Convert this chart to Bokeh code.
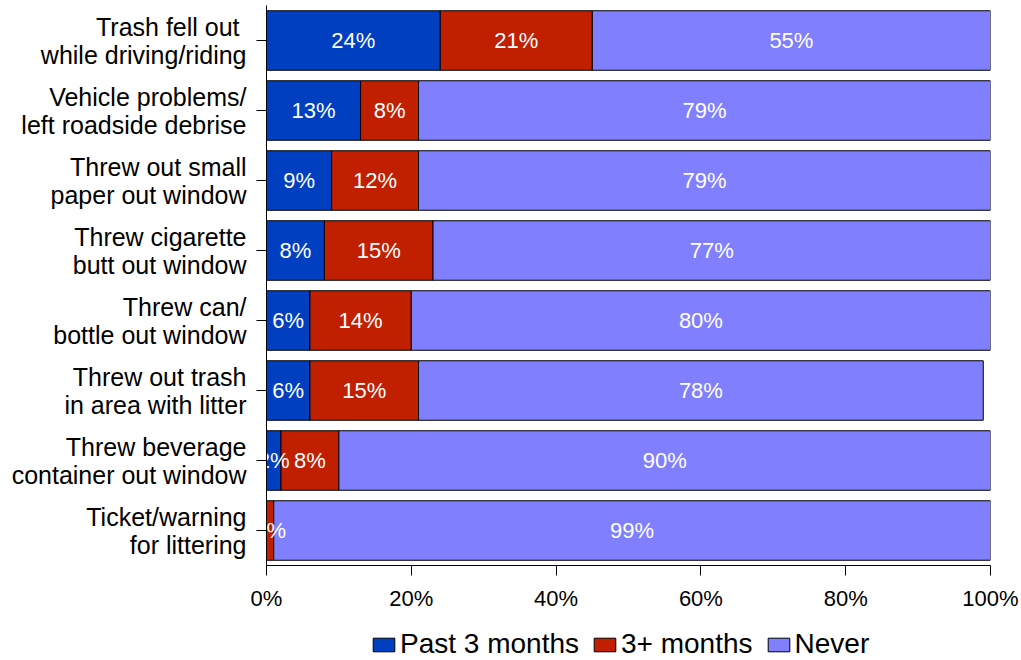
from bokeh.plotting import figure
from bokeh.layouts import column
from bokeh.models import Range1d, FactorRange, FixedTicker, PrintfTickFormatter, Legend, LegendItem, ColumnDataSource
from bokeh.core.properties import value
from bokeh.embed import file_html
from bokeh.resources import INLINE

categories = [
    "Trash fell out \nwhile driving/riding",
    "Vehicle problems/\nleft roadside debrise",
    "Threw out small\npaper out window",
    "Threw cigarette\nbutt out window",
    "Threw can/\nbottle out window",
    "Threw out trash\nin area with litter",
    "Threw beverage\ncontainer out window",
    "Ticket/warning\nfor littering",
]
past_3_months = [24, 13, 9, 8, 6, 6, 2, 0]
three_plus_months = [21, 8, 12, 15, 14, 15, 8, 1]
never = [55, 79, 79, 77, 80, 78, 90, 99]
series_names = ["Past 3 months", "3+ months", "Never"]
colors = ["#0040C0", "#C02000", "#8080FF"]
x_ticks = [0, 20, 40, 60, 80, 100]

FONT = "Liberation Sans"

src = ColumnDataSource(dict(cat=categories, p3=past_3_months, m3=three_plus_months, nv=never))

p = figure(frame_width=724, frame_height=560, output_backend="svg", toolbar_location=None,
           y_range=FactorRange(factors=list(reversed(categories)), range_padding=0),
           x_range=Range1d(0, 100),
           min_border_left=266, min_border_right=31, min_border_top=5, min_border_bottom=48)

rs = p.hbar_stack(["p3", "m3", "nv"], y="cat", height=0.85, color=colors,
                  line_color="black", line_width=1, source=src)

# labels
lx, ly, lt = [], [], []
for i, c in enumerate(categories):
    vals = [past_3_months[i], three_plus_months[i], never[i]]
    start = 0
    for v in vals:
        if v > 0:
            lx.append(start + v / 2)
            ly.append(c)
            lt.append(f"{v}%")
        start += v
p.text(x=lx, y=ly, text=lt, text_color="white", text_font=value(FONT),
       text_font_size="22px", text_align="center", text_baseline="middle")

p.xgrid.visible = False
p.ygrid.visible = False
p.outline_line_color = None

p.xaxis.ticker = FixedTicker(ticks=x_ticks)
p.xaxis.formatter = PrintfTickFormatter(format="%d%%")
p.xaxis.minor_tick_line_color = None
p.xaxis.major_tick_in = 0
p.xaxis.major_tick_out = 10
p.xaxis.major_label_standoff = 10
p.xaxis.major_label_text_font = FONT
p.xaxis.major_label_text_font_size = "22px"
p.xaxis.major_label_text_color = "black"
p.xaxis.axis_line_color = "black"
p.xaxis.major_tick_line_color = "black"

p.yaxis.major_tick_in = 0
p.yaxis.major_tick_out = 10
p.yaxis.major_label_text_font = FONT
p.yaxis.major_label_text_font_size = "25px"
p.yaxis.major_label_text_line_height = 1.0
p.yaxis.major_label_text_color = "black"
p.yaxis.major_label_standoff = 10
p.yaxis.axis_line_color = "black"
p.yaxis.major_tick_line_color = "black"

# legend row as a separate strip under the chart (its frame aligns with the chart's frame)
lg = figure(width=1021, height=47, output_backend="svg", toolbar_location=None,
            x_axis_type=None, y_axis_type=None, x_range=Range1d(0, 1), y_range=Range1d(0, 1),
            min_border_left=0, min_border_right=0, min_border_top=0, min_border_bottom=0)
lg.outline_line_color = None
dummy = [lg.hbar(y=[-10], left=[-10], right=[-9], height=0.5, fill_color=c, line_color="black")
         for c in colors]
legend = Legend(items=[LegendItem(label=n, renderers=[r]) for n, r in zip(series_names, dummy)],
                orientation="horizontal", location=(104, 0),
                label_text_font=FONT, label_text_font_size="28px", label_text_color="black",
                glyph_width=27, glyph_height=17, label_standoff=3, spacing=12,
                label_height=28,
                border_line_color=None, background_fill_alpha=0, padding=0, margin=0)
lg.add_layout(legend, "center")

layout = column(p, lg, spacing=0)

open("out.html", "w").write(file_html(layout, INLINE))
